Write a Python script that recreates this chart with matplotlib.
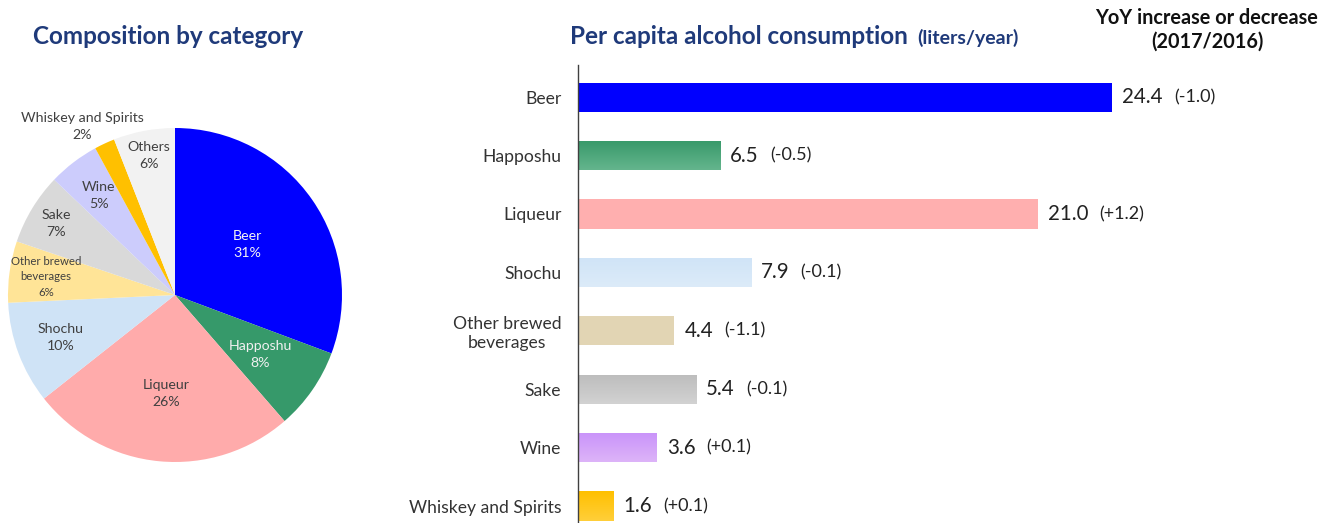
import numpy as np
import matplotlib
matplotlib.use("Agg")
import matplotlib.pyplot as plt
from matplotlib.colors import LinearSegmentedColormap

plt.rcParams['font.family'] = ['Lato', 'DejaVu Sans']

# ---- data ----
pie_labels = ["Beer", "Happoshu", "Liqueur", "Shochu", "Other brewed\nbeverages",
              "Sake", "Wine", "Whiskey and Spirits", "Others"]
pie_pct = [31, 8, 26, 10, 6, 7, 5, 2, 6]
pie_colors = ["#0000FF", "#36996A", "#FFABAB", "#CFE3F6", "#FFE497",
              "#D9D9D9", "#CCCCFC", "#FFC000", "#F2F2F2"]

bar_cats = ["Beer", "Happoshu", "Liqueur", "Shochu", "Other brewed\nbeverages",
            "Sake", "Wine", "Whiskey and Spirits"]
bar_vals = [24.4, 6.5, 21.0, 7.9, 4.4, 5.4, 3.6, 1.6]
bar_yoy = ["(-1.0)", "(-0.5)", "(+1.2)", "(-0.1)", "(-1.1)", "(-0.1)", "(+0.1)", "(+0.1)"]
# top / bottom colour of each bar (slight gradient as in the original)
bar_top = ["#0000FF", "#38996A", "#FFAFAF", "#D0E4F7", "#E2D5B4",
           "#BDBDBD", "#C993FA", "#FFC000"]
bar_bot = ["#0000FF", "#64B58D", "#FFAFAF", "#DCEBF9", "#E2D5B4",
           "#D2D2D2", "#DDB4F8", "#FFCF3A"]

W, H = 1320, 523
fig = plt.figure(figsize=(W / 100, H / 100), dpi=100)

# ---- pie ----
ax1 = fig.add_axes([8 / W, 61 / H, 334 / W, 334 / H])
wedges, _ = ax1.pie(pie_pct, colors=pie_colors, startangle=90, counterclock=False,
                    radius=1.0, wedgeprops=dict(linewidth=0))
ax1.set_xlim(-1, 1)
ax1.set_ylim(-1, 1)
ax1.set_aspect('equal')

# label placement: radius and small angle nudge (deg) per wedge
label_r = [0.53, 0.62, 0.59, 0.73, 0.78, 0.83, 0.75, 1.15, 0.85]
label_da = [0, 0, 0, 0, 0, 0, 0, 4, 0]
label_col = ["#F4F4F4", "#F0F0F0", "#404040", "#404040", "#404040",
             "#404040", "#404040", "#404040", "#404040"]
for w, lab, p, r, da, c in zip(wedges, pie_labels, pie_pct, label_r, label_da, label_col):
    ang = np.deg2rad((w.theta1 + w.theta2) / 2 + da)
    fs = 8.2 if "brewed" in lab else 10.2
    ax1.text(r * np.cos(ang), r * np.sin(ang), f"{lab}\n{p}%", ha='center', va='center',
             fontsize=fs, color=c, linespacing=1.5, clip_on=False)

fig.text(168 / W, 1 - 37 / H, "Composition by category", ha='center', va='center',
         fontsize=17.5, fontweight='bold', color="#1F3A7A")

# ---- bars ----
ax2 = fig.add_axes([578 / W, 0, (W - 578) / W, 458 / H])
y = np.arange(len(bar_cats))
bars = ax2.barh(y, bar_vals, height=0.5, color=bar_top, linewidth=0)
ax2.set_xlim(0, (W - 578) / 21.9)
ax2.set_ylim(7.29, -0.55)
for b, c0, c1 in zip(bars, bar_top, bar_bot):
    if c0 == c1:
        continue
    cmap = LinearSegmentedColormap.from_list("g", [c0, c1])
    x0, y0 = b.get_x(), b.get_y()
    img = ax2.imshow(np.linspace(0, 1, 50).reshape(-1, 1), cmap=cmap, aspect='auto',
                     extent=[x0, x0 + b.get_width(), y0, y0 + b.get_height()],
                     origin='lower', zorder=b.get_zorder() + 0.1)
    img.set_clip_path(b)
ax2.set_xlim(0, (W - 578) / 21.9)
ax2.set_ylim(7.29, -0.55)
ax2.set_yticks(y)
ax2.set_yticklabels(bar_cats, fontsize=12.6, color="#333333", multialignment='center')
ax2.tick_params(axis='y', length=0, pad=12)
ax2.set_xticks([])
for s in ["top", "right", "bottom"]:
    ax2.spines[s].set_visible(False)
ax2.spines["left"].set_color("#404040")
ax2.spines["left"].set_linewidth(1)

for yi, v, d in zip(y, bar_vals, bar_yoy):
    t = ax2.annotate(f"{v:.1f}", (v, yi), xytext=(7.2, 0), textcoords='offset points',
                     va='center', ha='left', fontsize=14.8, color="#222222")
    ax2.annotate(d, xy=(1, 0.5), xycoords=t, xytext=(8, 0), textcoords='offset points',
                 va='center', ha='left', fontsize=13, color="#222222")

fig.text(570 / W, 1 - 37 / H, "Per capita alcohol consumption", ha='left', va='center',
         fontsize=17.5, fontweight='bold', color="#1F3A7A")
fig.text(917 / W, 1 - 38 / H, "(liters/year)", ha='left', va='center',
         fontsize=14, fontweight='bold', color="#1F3A7A")
fig.text(1207 / W, 1 - 30 / H, "YoY increase or decrease\n(2017/2016)", ha='center',
         va='center', fontsize=14.3, fontweight='bold', color="#111111", linespacing=1.2)

fig.savefig("out.png", dpi=100)
